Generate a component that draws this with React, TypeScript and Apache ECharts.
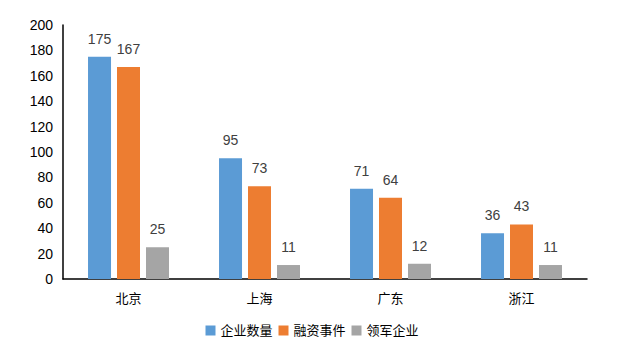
import React, { useEffect, useRef } from "react";
import * as echarts from "echarts";

const categories = ["北京", "上海", "广东", "浙江"];
const seriesNames = ["企业数量", "融资事件", "领军企业"];
const companies = [175, 95, 71, 36];
const financing = [167, 73, 64, 43];
const leaders = [25, 11, 12, 11];
const colors = ["#5B9BD5", "#ED7D31", "#A5A5A5"];

const FONT = "'Liberation Sans', Arial, 'Noto Sans CJK SC', sans-serif";

export default function App() {
  const ref = useRef<HTMLDivElement>(null);
  useEffect(() => {
    if (!ref.current) return;
    const chart = echarts.init(ref.current, undefined, { renderer: "svg" });
    const data = [companies, financing, leaders];
    chart.setOption({
      animation: false,
      textStyle: { fontFamily: FONT },
      grid: { left: 63, right: 37, top: 25, bottom: 71, containLabel: false },
      legend: {
        bottom: 8,
        left: "center",
        itemWidth: 10,
        itemHeight: 10,
        itemGap: 6,
        icon: "rect",
        textStyle: { fontSize: 13, color: "#000", fontFamily: FONT },
        data: seriesNames,
      },
      xAxis: {
        type: "category",
        data: categories,
        axisLine: { lineStyle: { color: "#000", width: 1.5 } },
        axisTick: { show: false },
        axisLabel: { fontSize: 13, color: "#000", margin: 13 },
      },
      yAxis: {
        type: "value",
        min: 0,
        max: 200,
        interval: 20,
        axisLine: { show: true, lineStyle: { color: "#000", width: 1.5 } },
        axisTick: { show: false },
        splitLine: { show: false },
        axisLabel: { fontSize: 14, color: "#000", margin: 10 },
      },
      series: seriesNames.map((name, i) => ({
        name,
        type: "bar",
        data: data[i],
        barWidth: 23,
        barGap: "26%",
        itemStyle: { color: colors[i] },
        label: {
          show: true,
          position: "top",
          distance: 11,
          fontSize: 14,
          color: "#404040",
        },
      })),
    });
    return () => chart.dispose();
  }, []);
  return (
    <div
      ref={ref}
      style={{ position: "absolute", left: 0, top: 0, width: 624, height: 350 }}
    />
  );
}
